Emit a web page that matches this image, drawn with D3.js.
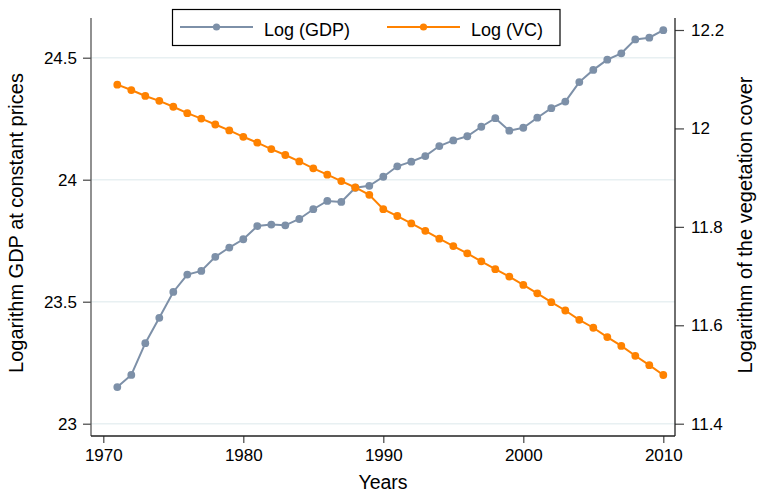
<!DOCTYPE html>
<html>
<head>
<meta charset="utf-8">
<script src="https://cdn.jsdelivr.net/npm/d3@7"></script>
<style>
  html, body { margin: 0; padding: 0; background: #fff; }
  svg text { font-family: "Liberation Sans", Arial, Helvetica, sans-serif; fill: #000; }
</style>
</head>
<body>
<svg id="chart" width="757" height="495"></svg>
<script>
const years = d3.range(1971, 2011);
const gdp = [23.150, 23.200, 23.330, 23.434, 23.540, 23.611, 23.626, 23.684, 23.722, 23.756,
             23.810, 23.816, 23.813, 23.839, 23.879, 23.913, 23.909, 23.967, 23.975, 24.012,
             24.055, 24.074, 24.097, 24.138, 24.161, 24.178, 24.217, 24.252, 24.201, 24.213,
             24.254, 24.293, 24.320, 24.400, 24.450, 24.492, 24.518, 24.575, 24.582, 24.613];
const vc = [12.089, 12.078, 12.066, 12.056, 12.044, 12.031, 12.020, 12.008, 11.996, 11.983,
            11.971, 11.958, 11.946, 11.933, 11.919, 11.906, 11.893, 11.880, 11.865, 11.836,
            11.822, 11.807, 11.792, 11.776, 11.761, 11.746, 11.730, 11.714, 11.699, 11.682,
            11.665, 11.647, 11.630, 11.611, 11.595, 11.576, 11.558, 11.538, 11.519, 11.499];
const xTicks = [1970, 1980, 1990, 2000, 2010];
const yLeftTicks = [23, 23.5, 24, 24.5];
const yRightTicks = [11.4, 11.6, 11.8, 12, 12.2];
const seriesNames = ["Log (GDP)", "Log (VC)"];
const colors = ["#7d90a8", "#ff8200"];
const xTitle = "Years";
const yLeftTitle = "Logarithm GDP at constant prices";
const yRightTitle = "Logarithm of the vegetation cover";

const svg = d3.select("#chart");
const L = 91, R = 675, T = 18, B = 436;

const x = d3.scaleLinear().domain([1970, 2010]).range([103.3, 663.3]);
const yL = d3.scaleLinear().domain([23, 24.5]).range([423.7, 57.7]);
const yR = d3.scaleLinear().domain([11.4, 12.2]).range([423.7, 30]);

// gridlines
svg.append("g").selectAll("line").data(yLeftTicks).join("line")
  .attr("x1", L).attr("x2", R)
  .attr("y1", d => yL(d)).attr("y2", d => yL(d))
  .attr("stroke", "#e8f0f2").attr("stroke-width", 1.5);

// axes
const fmt = d => String(d);
const gL = svg.append("g").attr("transform", `translate(${L},0)`)
  .call(d3.axisLeft(yL).tickValues(yLeftTicks).tickFormat(fmt).tickSize(8).tickPadding(6));
const gR = svg.append("g").attr("transform", `translate(${R},0)`)
  .call(d3.axisRight(yR).tickValues(yRightTicks).tickFormat(fmt).tickSize(9).tickPadding(7));
const gB = svg.append("g").attr("transform", `translate(0,${B})`)
  .call(d3.axisBottom(x).tickValues(xTicks).tickFormat(d3.format("d")).tickSize(7).tickPadding(6));

[gL, gR, gB].forEach(g => {
  g.select(".domain").remove();
  g.selectAll(".tick line").attr("stroke", "#444").attr("stroke-width", 1.2);
  g.selectAll(".tick text").attr("font-size", 17).attr("fill", "#000")
    .style("font-family", '"Liberation Sans", Arial, sans-serif');
});
// axis lines
svg.append("line").attr("x1", L).attr("x2", L).attr("y1", T).attr("y2", B)
  .attr("stroke", "#555").attr("stroke-width", 1.3);
svg.append("line").attr("x1", R).attr("x2", R).attr("y1", T).attr("y2", B)
  .attr("stroke", "#222").attr("stroke-width", 1.3);
svg.append("line").attr("x1", L).attr("x2", R).attr("y1", B).attr("y2", B)
  .attr("stroke", "#222").attr("stroke-width", 1.3);

// lines and markers
function drawSeries(vals, yScale, color) {
  const pts = years.map((yr, i) => [yr, vals[i]]);
  svg.append("path").datum(pts)
    .attr("fill", "none").attr("stroke", color).attr("stroke-width", 2)
    .attr("d", d3.line().x(d => x(d[0])).y(d => yScale(d[1])));
  svg.append("g").selectAll("circle").data(pts).join("circle")
    .attr("cx", d => x(d[0])).attr("cy", d => yScale(d[1])).attr("r", 3.9)
    .attr("fill", color);
}
drawSeries(gdp, yL, colors[0]);
drawSeries(vc, yR, colors[1]);

// titles
svg.append("text").attr("x", 383).attr("y", 489).attr("text-anchor", "middle")
  .attr("font-size", 19.5).text(xTitle);
svg.append("text").attr("transform", "translate(23,223) rotate(-90)").attr("text-anchor", "middle")
  .attr("font-size", 20).text(yLeftTitle);
svg.append("text").attr("transform", "translate(752,225) rotate(-90)").attr("text-anchor", "middle")
  .attr("font-size", 20).text(yRightTitle);

// legend
const lg = svg.append("g");
lg.append("rect").attr("x", 172.5).attr("y", 9.5).attr("width", 387.5).attr("height", 36)
  .attr("fill", "#fff").attr("stroke", "#000").attr("stroke-width", 1.2);
const legItems = [{lx: 180, tx: 264}, {lx: 387, tx: 471}];
legItems.forEach((it, i) => {
  lg.append("line").attr("x1", it.lx).attr("x2", it.lx + 73).attr("y1", 27).attr("y2", 27)
    .attr("stroke", colors[i]).attr("stroke-width", 2);
  lg.append("circle").attr("cx", it.lx + 36.5).attr("cy", 27).attr("r", 3.6).attr("fill", colors[i]);
  lg.append("text").attr("x", it.tx).attr("y", 35.5).attr("font-size", 18).text(seriesNames[i]);
});
</script>
</body>
</html>
